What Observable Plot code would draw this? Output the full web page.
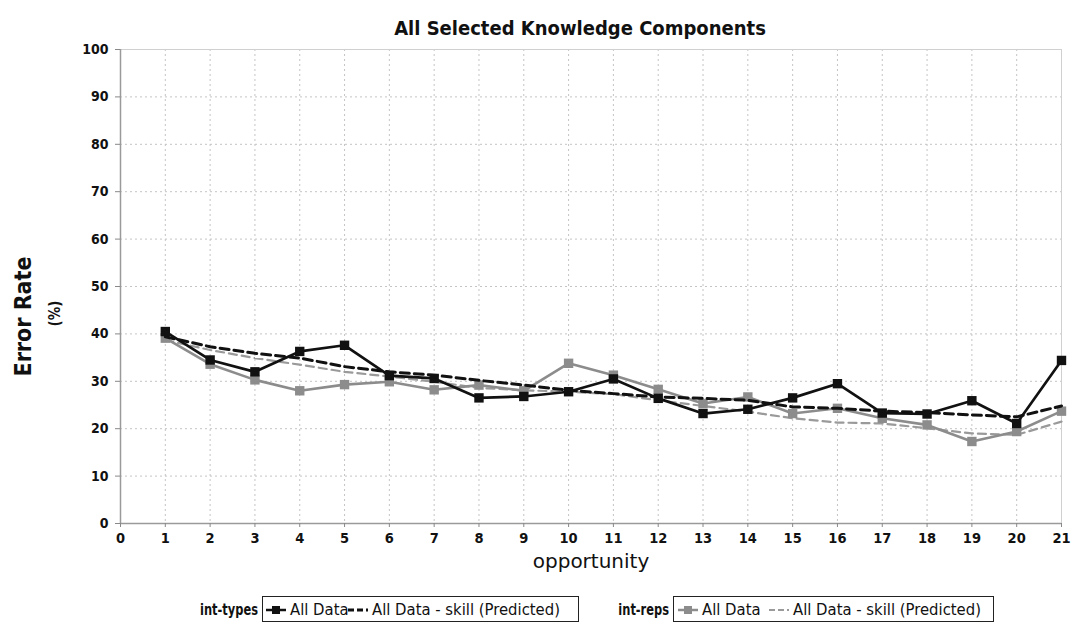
<!DOCTYPE html>
<html>
<head>
<meta charset="utf-8">
<script src="https://cdn.jsdelivr.net/npm/d3@7"></script>
<script src="https://cdn.jsdelivr.net/npm/@observablehq/plot@0.6"></script>
<style>
  html, body { margin: 0; padding: 0; background: #fff; }
  #wrap { position: relative; width: 1072px; height: 626px; overflow: hidden; font-family: "DejaVu Sans Condensed", "DejaVu Sans", sans-serif; }
  #title { position: absolute; left: 330px; width: 500px; top: 16px; text-align: center; font-weight: bold; font-size: 20px; line-height: 24px; color: #111; }
  #chart { position: absolute; left: 0; top: 40px; }
  .lg { position: absolute; font-size: 16.5px; line-height: 20px; color: #111; white-space: nowrap; top: 600px; }
  .lgname { font-weight: bold; font-size: 15.5px; text-align: right; width: 100px; transform: scaleX(0.82); transform-origin: right center; }
  .box { position: absolute; border: 1.5px solid #222; height: 24px; top: 596px; }
  .sw { position: absolute; top: 601px; }
</style>
</head>
<body>
<div id="wrap">
  <div id="title">All Selected Knowledge Components</div>
  <div id="chart"></div>
  <div id="legend"></div>
</div>
<script>
const opportunity = [1, 2, 3, 4, 5, 6, 7, 8, 9, 10, 11, 12, 13, 14, 15, 16, 17, 18, 19, 20, 21];
const typesActual = [40.5, 34.5, 32.0, 36.3, 37.6, 31.2, 30.6, 26.5, 26.8, 27.8, 30.5, 26.4, 23.2, 24.1, 26.5, 29.5, 23.3, 23.1, 25.9, 21.1, 34.4];
const typesPredicted = [39.4, 37.3, 35.9, 34.9, 33.1, 32.0, 31.3, 30.2, 29.2, 28.1, 27.4, 26.7, 26.4, 26.0, 24.6, 24.3, 23.7, 23.4, 22.9, 22.5, 24.8];
const repsActual = [39.1, 33.6, 30.3, 28.0, 29.3, 29.9, 28.2, 29.2, 28.0, 33.8, 31.3, 28.3, 25.3, 26.7, 23.2, 24.3, 22.2, 20.8, 17.3, 19.4, 23.7];
const repsPredicted = [38.7, 36.6, 34.9, 33.5, 32.0, 31.0, 29.9, 28.6, 28.1, 27.8, 27.3, 26.0, 24.8, 23.6, 22.2, 21.3, 21.1, 20.1, 19.0, 18.7, 21.5];
const xTicks = [0, 1, 2, 3, 4, 5, 6, 7, 8, 9, 10, 11, 12, 13, 14, 15, 16, 17, 18, 19, 20, 21];
const yTicks = [0, 10, 20, 30, 40, 50, 60, 70, 80, 90, 100];
const groupNames = ["int-types", "int-reps"];
const seriesNames = ["All Data", "All Data - skill (Predicted)"];

const toRows = (vals) => opportunity.map((o, i) => ({x: o, y: vals[i]}));
const tA = toRows(typesActual), tP = toRows(typesPredicted);
const rA = toRows(repsActual), rP = toRows(repsPredicted);

const BLACK = "#111", GRAY = "#8c8c8c", GRAYD = "#9a9a9a";
const FONT = "DejaVu Sans Condensed, DejaVu Sans, sans-serif";

const chart = Plot.plot({
  width: 1072,
  height: 545,
  marginTop: 9,
  marginLeft: 120,
  marginRight: 11,
  marginBottom: 62,
  style: {fontFamily: FONT, background: "white"},
  x: {domain: [0, 21], axis: null},
  y: {domain: [0, 100], axis: null},
  marks: [
    Plot.gridX(xTicks.slice(1), {stroke: "#c4c4c4", strokeOpacity: 1, strokeDasharray: "2,3"}),
    Plot.gridY(yTicks.slice(1), {stroke: "#c4c4c4", strokeOpacity: 1, strokeDasharray: "2,3"}),
    Plot.frame({stroke: "#d0d0d0"}),
    Plot.ruleX([0], {stroke: "#9a9a9a", strokeWidth: 1.5}),
    Plot.ruleY([0], {stroke: "#9a9a9a", strokeWidth: 1.5}),
    Plot.axisX({ticks: xTicks, tickSize: 4, tickPadding: 5, fontSize: 14.5, fontWeight: "bold", stroke: "#888", fill: "#111", label: null, tickFormat: d => String(d)}),
    Plot.axisY({ticks: yTicks, tickSize: 5, tickPadding: 7, fontSize: 14, fontWeight: "bold", stroke: "#888", fill: "#111", label: null, tickFormat: d => String(d)}),
    // int-reps
    Plot.line(rP, {x: "x", y: "y", stroke: GRAYD, strokeWidth: 2.2, strokeDasharray: "8,5"}),
    Plot.line(rA, {x: "x", y: "y", stroke: GRAY, strokeWidth: 2.6}),
    Plot.dot(rA, {x: "x", y: "y", symbol: "square", r: 5.3, fill: GRAY, stroke: "none"}),
    // int-types
    Plot.line(tP, {x: "x", y: "y", stroke: BLACK, strokeWidth: 3, strokeDasharray: "9,5"}),
    Plot.line(tA, {x: "x", y: "y", stroke: BLACK, strokeWidth: 2.7}),
    Plot.dot(tA, {x: "x", y: "y", symbol: "square", r: 5.3, fill: BLACK, stroke: "none"}),
    // axis titles
    Plot.text(["opportunity"], {frameAnchor: "bottom", dy: 44, fontSize: 20, fontFamily: "DejaVu Sans, sans-serif", fill: "#111"}),
    Plot.text(["Error Rate"], {frameAnchor: "left", textAnchor: "middle", dx: -97, dy: 30, rotate: -90, fontSize: 23, fontWeight: "bold", fill: "#111"}),
    Plot.text(["(%)"], {frameAnchor: "left", textAnchor: "middle", dx: -65, dy: 27, rotate: -90, fontSize: 15, fontWeight: "bold", fill: "#111"})
  ]
});
document.getElementById("chart").appendChild(chart);

// Legend (HTML)
const legend = document.getElementById("legend");
function add(html) { legend.insertAdjacentHTML("beforeend", html); }
function swatch(left, color, dashed, marker, width) {
  const sq = marker ? `<rect x="6" y="5" width="8" height="8" fill="${color}"/>` : "";
  const dash = dashed ? `stroke-dasharray="6,3"` : "";
  return `<svg class="sw" style="left:${left}px" width="20" height="18"><line x1="0" y1="9" x2="20" y2="9" stroke="${color}" stroke-width="${width}" ${dash}/>${sq}</svg>`;
}
const groups = [
  {name: groupNames[0], nameRight: 258, boxLeft: 262, boxW: 315, color: BLACK, dcolor: BLACK, sw1: 266, t1: 290, sw2: 348, t2: 372, dw: 3},
  {name: groupNames[1], nameRight: 669, boxLeft: 673, boxW: 319, color: GRAY, dcolor: GRAYD, sw1: 678, t1: 702, sw2: 769, t2: 793, dw: 2}
];
for (const g of groups) {
  add(`<div class="lg lgname" style="left:${g.nameRight - 100}px;top:600px">${g.name}</div>`);
  add(`<div class="box" style="left:${g.boxLeft}px;width:${g.boxW}px"></div>`);
  add(swatch(g.sw1, g.color, false, true, 2.5));
  add(`<div class="lg" style="left:${g.t1}px">${seriesNames[0]}</div>`);
  add(swatch(g.sw2, g.dcolor, true, false, g.dw));
  add(`<div class="lg" style="left:${g.t2}px">${seriesNames[1]}</div>`);
}
</script>
</body>
</html>
